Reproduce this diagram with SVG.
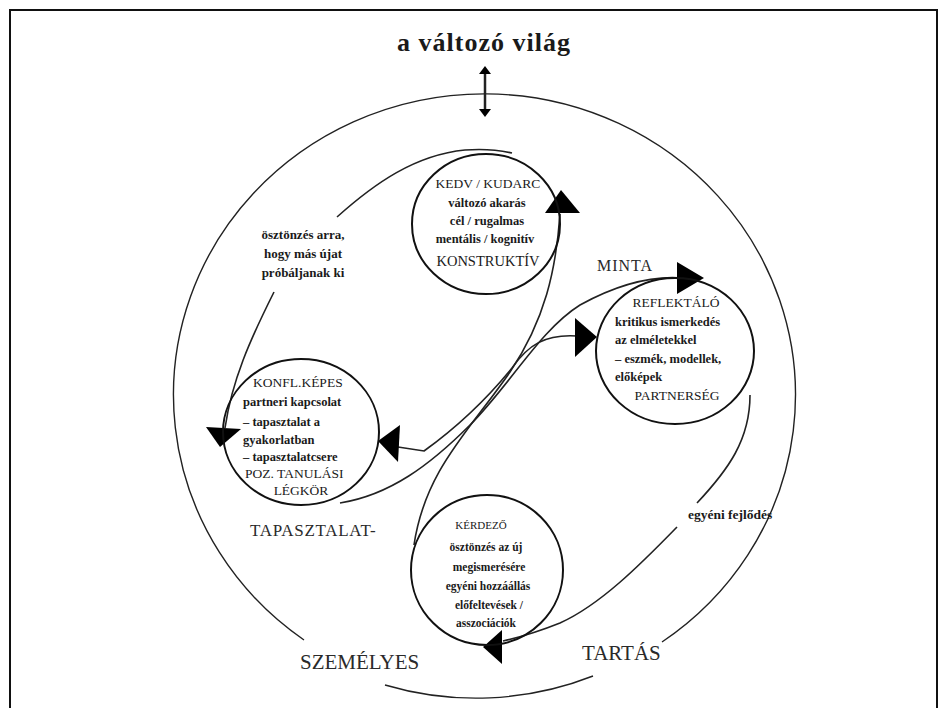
<svg xmlns="http://www.w3.org/2000/svg" width="944" height="708" viewBox="0 0 944 708">
<style>
  .frame{fill:none;stroke:#111;stroke-width:2}
  .outer{fill:none;stroke:#222;stroke-width:1.4}
  .node{fill:none;stroke:#111;stroke-width:2}
  .con{fill:none;stroke:#222;stroke-width:1.6}
  .ah{fill:#000;stroke:none}
  text{font-family:"Liberation Serif","Times New Roman",serif;fill:#1a1a1a}
  .t{font-size:12.5px;font-weight:bold}
  .c{text-anchor:middle}
  .cap{font-size:13.5px}
  .big{font-size:21px;fill:#2a2a2a}
  .mid{font-size:17px;fill:#2a2a2a;letter-spacing:0.7px}
  .sm{font-size:11.5px;font-weight:bold}
  .lt{font-size:13px;font-weight:bold}
</style>
<rect class="frame" x="10" y="10" width="927" height="720"/>

<g id="title">
  <text x="484" y="51" class="c" style="font-size:26px;font-weight:bold;letter-spacing:1px">a változó világ</text>
</g>

<g id="world-arrow">
  <line x1="485" y1="73" x2="485" y2="110" stroke="#222" stroke-width="2.5"/>
  <polygon class="ah" points="479,74 491,74 485,66"/>
  <polygon class="ah" points="479,109 491,109 485,117"/>
</g>

<g id="outer-circle">
  <path class="outer" d="M304,640 A311,301 0 1 1 662,642"/>
  <path class="outer" d="M385,685 A311,301 0 0 0 593,676"/>
</g>

<g id="connectors">
  <path class="con" d="M560,214 C556,270 545,320 510,372 C470,430 425,470 414,545"/>
  <path class="con" d="M340,503 C390,495 430,465 470,425 C510,385 540,330 580,305 C620,283 655,276 682,278"/>
  <path class="con" d="M398,447 L424,451 C460,425 490,395 512,368 C528,345 545,334 577,336"/>
  <path class="con" d="M337,217 C375,183 415,155 465,150 Q490,148 512,153"/>
  <path class="con" d="M274,292 C250,340 232,380 225,428"/>
  <path class="con" d="M750,395 C750,440 728,470 697,503"/>
  <path class="con" d="M677,527 C640,565 600,605 560,623 Q530,635 503,641"/>
  <polygon class="ah" points="545,213 580,213 561,190"/>
  <polygon class="ah" points="677,262 677,294 704,278"/>
  <polygon class="ah" points="575,318 575,357 597,337"/>
  <polygon class="ah" points="400,425 398,462 378,441"/>
  <polygon class="ah" points="206,427 241,429 220,447"/>
  <polygon class="ah" points="502,630 502,664 483,647"/>
</g>

<g id="kedv">
  <ellipse class="node" cx="486" cy="224" rx="74" ry="70"/>
  <text x="488" y="188" class="c cap">KEDV / KUDARC</text>
  <text x="487" y="207" class="c t">változó akarás</text>
  <text x="487" y="225" class="c t">cél / rugalmas</text>
  <text x="485" y="243" class="c t">mentális / kognitív</text>
  <text x="488" y="266" class="c" style="font-size:14.5px">KONSTRUKTÍV</text>
</g>

<g id="osztonzes">
  <text x="303" y="239" class="c lt">ösztönzés arra,</text>
  <text x="303" y="258" class="c lt">hogy más újat</text>
  <text x="303" y="277" class="c lt">próbáljanak ki</text>
</g>

<g id="konfl">
  <ellipse class="node" cx="301" cy="432" rx="78" ry="73"/>
  <text x="253" y="387" class="cap">KONFL.KÉPES</text>
  <text x="243" y="406" class="t">partneri kapcsolat</text>
  <text x="243" y="426" class="t">– tapasztalat a</text>
  <text x="243" y="444" class="t">gyakorlatban</text>
  <text x="243" y="461" class="t">– tapasztalatcsere</text>
  <text x="245" y="478" class="cap">POZ. TANULÁSI</text>
  <text x="301" y="495" class="c cap">LÉGKÖR</text>
</g>

<g id="reflektalo">
  <ellipse class="node" cx="675" cy="351" rx="79" ry="73"/>
  <text x="676" y="307" class="c cap">REFLEKTÁLÓ</text>
  <text x="615" y="326" class="t">kritikus ismerkedés</text>
  <text x="615" y="344" class="t">az elméletekkel</text>
  <text x="615" y="363" class="t">– eszmék, modellek,</text>
  <text x="615" y="381" class="t">előképek</text>
  <text x="677" y="400" class="c cap">PARTNERSÉG</text>
</g>

<g id="kerdezo">
  <ellipse class="node" cx="487" cy="570" rx="76" ry="75"/>
  <text x="481" y="529" class="c" style="font-size:11px">KÉRDEZŐ</text>
  <text x="486" y="551" class="c sm">ösztönzés az új</text>
  <text x="489" y="571" class="c sm">megismerésére</text>
  <text x="488" y="590" class="c sm">egyéni hozzáállás</text>
  <text x="489" y="609" class="c sm">előfeltevések /</text>
  <text x="486" y="627" class="c sm">asszociációk</text>
</g>

<g id="egyeni">
  <text x="688" y="519" style="font-size:13.5px;font-weight:bold">egyéni fejlődés</text>
</g>

<g id="labels">
  <text x="597" y="271" style="font-size:16px;fill:#2a2a2a;letter-spacing:1px">MINTA</text>
  <text x="250" y="536" class="mid">TAPASZTALAT-</text>
  <text x="300" y="669" class="big">SZEMÉLYES</text>
  <text x="582" y="660" class="big">TARTÁS</text>
</g>
</svg>
